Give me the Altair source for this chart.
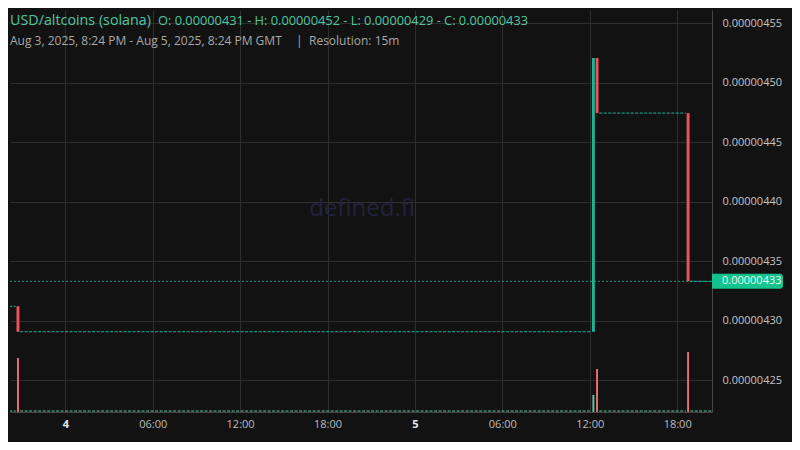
import altair as alt
import pandas as pd

# ---------------- data ----------------
pair_label = "USD/altcoins (solana)"
ohlc_label = "O: 0.00000431 - H: 0.00000452 - L: 0.00000429 - C: 0.00000433"
range_label = "Aug 3, 2025, 8:24 PM - Aug 5, 2025, 8:24 PM GMT"
separator_label = "|"
resolution_label = "Resolution: 15m"
watermark_label = "defined.fi"

# traded 15m candles (open time, UTC)
candle_time = ["2025-08-03T20:45", "2025-08-05T12:15", "2025-08-05T12:30", "2025-08-05T18:45"]
candle_open = [4.312e-6, 4.2906e-6, 4.5208e-6, 4.4745e-6]
candle_high = [4.312e-6, 4.5208e-6, 4.5208e-6, 4.4745e-6]
candle_low = [4.2906e-6, 4.2906e-6, 4.4745e-6, 4.3330e-6]
candle_close = [4.2906e-6, 4.5208e-6, 4.4745e-6, 4.3330e-6]
candle_volume = [27.0, 8.5, 21.5, 30.0]

# runs of flat (no-trade) candles: first and last candle open times, price
flat_first = ["2025-08-03T20:15", "2025-08-03T21:00", "2025-08-05T12:45", "2025-08-05T19:00"]
flat_last = ["2025-08-03T20:30", "2025-08-05T12:00", "2025-08-05T18:30", "2025-08-05T20:15"]
flat_price = [4.3120e-6, 4.2906e-6, 4.4745e-6, 4.3330e-6]

price_ticks = [4.25e-6, 4.30e-6, 4.35e-6, 4.40e-6, 4.45e-6, 4.50e-6, 4.55e-6]
time_ticks = ["2025-08-04T00:00", "2025-08-04T06:00", "2025-08-04T12:00", "2025-08-04T18:00",
              "2025-08-05T00:00", "2025-08-05T06:00", "2025-08-05T12:00", "2025-08-05T18:00"]
time_domain = ["2025-08-03T20:12:15", "2025-08-05T20:23:30"]
price_domain = [4.2231e-6, 4.5612e-6]
volume_domain = [0, 201]

# ---------------- styles ----------------
BG = "#121212"
GRID = "#2e2e2e"
DOMAIN = "#474747"
UP = "#1fb396"
DOWN = "#f0525a"
UP_VOL = "#5ac8a2"
DOWN_VOL = "#ec6a7c"
FONT = "Open Sans"


def iso(ts):
    return ts.strftime("%Y-%m-%dT%H:%M:%SZ")


def dt(s):
    t = pd.Timestamp(s)
    return alt.DateTime(year=t.year, month=t.month, date=t.day, hours=t.hour,
                        minutes=t.minute, seconds=t.second, utc=True)


half_body = pd.Timedelta(minutes=6)
half_vol = pd.Timedelta(minutes=4)
ct = pd.to_datetime(candle_time)
candles = pd.DataFrame({
    "t": [iso(t) for t in ct],
    "x0": [iso(t - half_body) for t in ct],
    "x1": [iso(t + half_body) for t in ct],
    "v0": [iso(t - half_vol) for t in ct],
    "v1": [iso(t + half_vol) for t in ct],
    "open": candle_open, "high": candle_high, "low": candle_low, "close": candle_close,
    "volume": candle_volume,
})
candles["dir"] = ["up" if c >= o else "down" for o, c in zip(candle_open, candle_close)]

flats = pd.DataFrame({
    "x0": [iso(t - half_body) for t in pd.to_datetime(flat_first)],
    "x1": [iso(t + half_body) for t in pd.to_datetime(flat_last)],
    "price": flat_price,
})

last = pd.DataFrame({"price": [candle_close[-1]], "label": [f"{candle_close[-1]:.8f}"]})

x_scale = alt.Scale(type="utc", domain=[dt(s) for s in time_domain])
x_axis = alt.Axis(
    values=[dt(s) for s in time_ticks],
    labelExpr="utchours(datum.value) == 0 ? utcFormat(datum.value, '%-d') : utcFormat(datum.value, '%H:%M')",
    labelFontWeight={"condition": {"test": "utchours(datum.value) == 0", "value": "bold"}, "value": "normal"},
    labelColor={"condition": {"test": "utchours(datum.value) == 0", "value": "#e6e6e6"}, "value": "#bdbdbd"},
    ticks=False, labelPadding=6, labelFontSize=11, labelFont=FONT,
    grid=True, gridColor=GRID, domainColor=DOMAIN, title=None, labelFlush=False,
)
p_scale = alt.Scale(domain=price_domain, nice=False, zero=False)
p_axis = alt.Axis(
    orient="right", values=price_ticks, format=".8f", ticks=False, labelPadding=10,
    labelFontSize=11, labelFont=FONT, labelColor="#c4c4c4", grid=True, gridColor=GRID,
    domainColor=DOMAIN, title=None, labelFlush=False, labelOverlap=False,
)
v_scale = alt.Scale(domain=volume_domain, nice=False, padding=0)

# ---------------- price layers ----------------
price_line = alt.Chart(last).mark_rule(color=UP, strokeDash=[2, 2], strokeWidth=1, opacity=0.85).encode(
    y=alt.Y("price:Q", scale=p_scale, axis=p_axis)
)
flat_rules = alt.Chart(flats).mark_rule(color=UP, strokeDash=[3, 1.5], strokeWidth=1, clip=True).encode(
    x=alt.X("x0:T", scale=x_scale, axis=x_axis),
    x2="x1:T",
    y=alt.Y("price:Q", scale=p_scale, axis=p_axis),
)
color_enc = alt.Color("dir:N", scale=alt.Scale(domain=["up", "down"], range=[UP, DOWN]), legend=None)
wicks = alt.Chart(candles).mark_rule(strokeWidth=1).encode(
    x=alt.X("t:T", scale=x_scale, axis=x_axis),
    y=alt.Y("high:Q", scale=p_scale, axis=p_axis),
    y2="low:Q",
    color=color_enc,
)
bodies = alt.Chart(candles).mark_bar().encode(
    x=alt.X("x0:T", scale=x_scale, axis=x_axis),
    x2="x1:T",
    y=alt.Y("open:Q", scale=p_scale, axis=p_axis),
    y2="close:Q",
    color=color_enc,
)
label_box = alt.Chart(last).mark_rect(
    color="#13c28e", yOffset=-7.5, y2Offset=7.5, cornerRadiusTopRight=3, cornerRadiusBottomRight=3
).encode(
    x=alt.value(702), x2=alt.value(773),
    y=alt.Y("price:Q", scale=p_scale, axis=p_axis), y2="price:Q",
)
label_text = alt.Chart(last).mark_text(
    align="left", baseline="middle", font=FONT, fontSize=11, color="#e9f7f1"
).encode(
    x=alt.value(712), y=alt.Y("price:Q", scale=p_scale, axis=p_axis), text="label:N"
)
price_layer = alt.layer(price_line, flat_rules, wicks, bodies, label_box, label_text)

# ---------------- volume layers ----------------
vol_base = alt.Chart(flats).transform_calculate(zero="0").mark_rule(
    color=UP_VOL, strokeDash=[3, 1.5], strokeWidth=1, yOffset=-1, clip=True
).encode(
    x=alt.X("x0:T", scale=x_scale, axis=x_axis), x2="x1:T",
    y=alt.Y("zero:Q", scale=v_scale, axis=None),
)
vol_bars = alt.Chart(candles).transform_calculate(zero="0").mark_bar().encode(
    x=alt.X("v0:T", scale=x_scale, axis=x_axis), x2="v1:T",
    y=alt.Y("volume:Q", scale=v_scale, axis=None),
    y2="zero:Q",
    color=alt.Color("dir:N", scale=alt.Scale(domain=["up", "down"], range=[UP_VOL, DOWN_VOL]), legend=None),
)
volume_layer = alt.layer(vol_base, vol_bars)

# ---------------- texts ----------------
def text_layer(txt, x, y, size, color, weight="normal", align="left"):
    return alt.Chart(pd.DataFrame({"s": [txt]})).mark_text(
        align=align, baseline="alphabetic", font=FONT, fontSize=size, color=color, fontWeight=weight
    ).encode(x=alt.value(x), y=alt.value(y), text="s:N")


watermark = text_layer(watermark_label, 352, 206, 24, "#23223c", align="center")
t1 = text_layer(pair_label, 0, 15, 14.3, "#4fc6a0")
t2 = text_layer(ohlc_label, 148, 15, 12.8, "#4fc6a0")
t3 = text_layer(range_label, 0, 35, 12, "#a8a8a8")
t4 = text_layer(separator_label, 286, 35, 12, "#a8a8a8")
t5 = text_layer(resolution_label, 299, 35, 12, "#a8a8a8")

chart = alt.layer(
    watermark, price_layer, volume_layer, t1, t2, t3, t4, t5
).resolve_scale(y="independent", color="independent").properties(
    width=702, height=402,
    autosize=alt.AutoSizeParams(type="none"),
    padding={"left": 2, "top": 2, "right": 80, "bottom": 30},
    background=BG,
).configure_view(stroke=None)

chart.save("out.html", embed_options={"renderer": "svg", "actions": False})
